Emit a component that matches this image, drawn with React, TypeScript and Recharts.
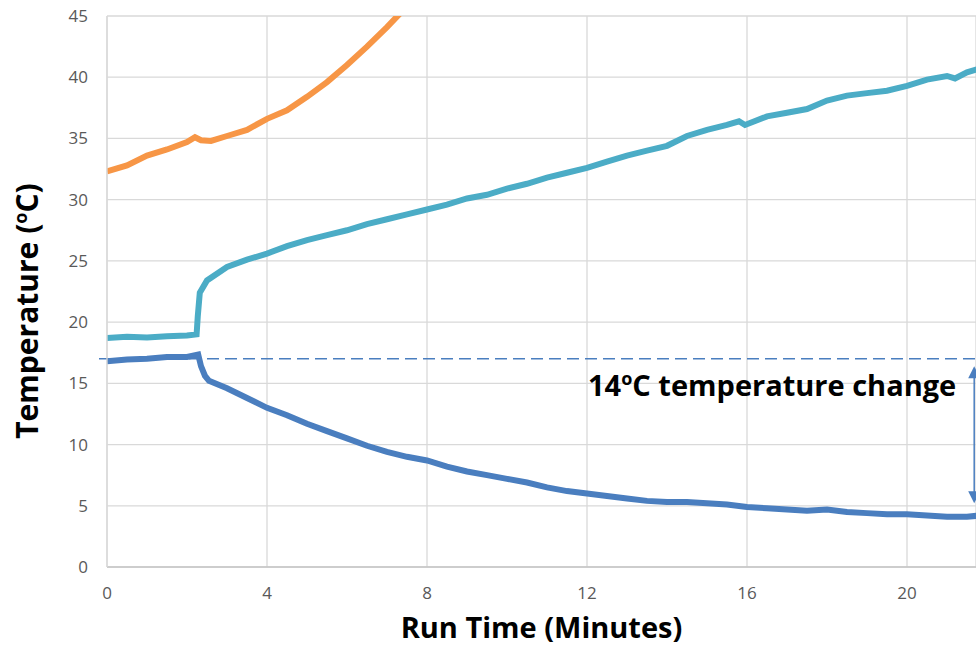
import React from "react";
import { LineChart, Line, XAxis, YAxis, CartesianGrid, ReferenceLine, Label } from "recharts";

const xTicks = [0, 4, 8, 12, 16, 20];
const yTicks = [0, 5, 10, 15, 20, 25, 30, 35, 40, 45];

const hotTime = [0, 0.5, 1, 1.5, 2, 2.2, 2.35, 2.6, 3, 3.5, 4, 4.5, 5, 5.5, 6, 6.5, 7, 7.5, 8];
const hotTemp = [32.3, 32.8, 33.6, 34.1, 34.7, 35.1, 34.85, 34.8, 35.2, 35.7, 36.6, 37.3, 38.4, 39.6, 41.0, 42.5, 44.1, 45.8, 47.5];

const warmTime = [0, 0.5, 1, 1.5, 2, 2.24, 2.27, 2.32, 2.5, 3, 3.5, 4, 4.5, 5, 5.5, 6, 6.5, 7, 7.5, 8, 8.5, 9, 9.5, 10, 10.5, 11, 11.5, 12, 12.5, 13, 13.5, 14, 14.5, 15, 15.5, 15.8, 15.95, 16.5, 17, 17.5, 18, 18.5, 19, 19.5, 20, 20.5, 21, 21.2, 21.5, 21.8];
const warmTemp = [18.7, 18.8, 18.75, 18.85, 18.9, 19.0, 20.5, 22.4, 23.4, 24.5, 25.1, 25.6, 26.2, 26.7, 27.1, 27.5, 28.0, 28.4, 28.8, 29.2, 29.6, 30.1, 30.4, 30.9, 31.3, 31.8, 32.2, 32.6, 33.1, 33.6, 34.0, 34.4, 35.2, 35.7, 36.1, 36.4, 36.1, 36.8, 37.1, 37.4, 38.1, 38.5, 38.7, 38.9, 39.3, 39.8, 40.1, 39.9, 40.4, 40.7];

const coldTime = [0, 0.5, 1, 1.5, 2, 2.28, 2.35, 2.45, 2.55, 3, 3.5, 4, 4.5, 5, 5.5, 6, 6.5, 7, 7.5, 8, 8.5, 9, 9.5, 10, 10.5, 11, 11.5, 12, 12.5, 13, 13.5, 14, 14.5, 15, 15.5, 16, 16.5, 17, 17.5, 18, 18.5, 19, 19.5, 20, 20.5, 21, 21.5, 21.8];
const coldTemp = [16.8, 16.95, 17.0, 17.15, 17.15, 17.35, 16.4, 15.6, 15.2, 14.6, 13.8, 13.0, 12.4, 11.7, 11.1, 10.5, 9.9, 9.4, 9.0, 8.7, 8.2, 7.8, 7.5, 7.2, 6.9, 6.5, 6.2, 6.0, 5.8, 5.6, 5.4, 5.3, 5.3, 5.2, 5.1, 4.9, 4.8, 4.7, 4.6, 4.7, 4.5, 4.4, 4.3, 4.3, 4.2, 4.1, 4.1, 4.2];

const baselineTemp = 17;
const arrowTime = 21.68;
const arrowTop = 16.4;
const arrowBottom = 5.2;

const zip = (ts: number[], vs: number[]) => ts.map((t, i) => ({ t, v: vs[i] }));
const hotData = zip(hotTime, hotTemp);
const warmData = zip(warmTime, warmTemp);
const coldData = zip(coldTime, coldTemp);

const FONT = "'Open Sans', sans-serif";
const BLUE = "#4A7EBF";

const YTitle = () => (
  <text
    x={38}
    y={311}
    transform="rotate(-90, 38, 311)"
    textAnchor="middle"
    fontFamily={FONT}
    fontWeight={700}
    fontSize={30}
    fill="#000"
  >
    <tspan>Temperature (</tspan>
    <tspan fontSize={18} dy={-11}>o</tspan>
    <tspan dy={11}>C)</tspan>
  </text>
);

const Annotation = (props: any) => {
  const vb = props.viewBox || { x: 99, y: 359 };
  return (
    <text
      x={vb.x + 489}
      y={vb.y + 37}
      fontFamily={FONT}
      fontWeight={700}
      fontSize={29}
      fill="#000"
    >
      <tspan>14</tspan>
      <tspan fontSize={18} dy={-11}>o</tspan>
      <tspan dy={11}>C temperature change</tspan>
    </text>
  );
};

const Arrow = (props: any) => {
  const { x1, y1, x2, y2 } = props;
  const top = Math.min(y1, y2);
  const bot = Math.max(y1, y2);
  return (
    <g>
      <line x1={x1} y1={top + 8} x2={x2} y2={bot - 8} stroke={BLUE} strokeWidth={1.5} />
      <polygon points={`${x1},${top} ${x1 - 6},${top + 12} ${x1 + 6},${top + 12}`} fill={BLUE} />
      <polygon points={`${x1},${bot} ${x1 - 6},${bot - 12} ${x1 + 6},${bot - 12}`} fill={BLUE} />
    </g>
  );
};

export default function App() {
  return (
    <div style={{ position: "absolute", left: 0, top: 0, background: "#fff" }}>
      <LineChart width={976} height={647} margin={{ top: 16, right: 0, bottom: 0, left: 0 }}>
        <CartesianGrid stroke="#d9d9d9" strokeWidth={1.3} />
        <XAxis
          type="number"
          dataKey="t"
          domain={[0, 21.725]}
          ticks={xTicks}
          allowDataOverflow
          height={80}
          tickLine={false}
          tickMargin={14}
          axisLine={{ stroke: "#c6c6c6", strokeWidth: 1.5 }}
          tick={{ fill: "#595959", fontSize: 17, fontFamily: FONT }}
        >
          <Label
            value="Run Time (Minutes)"
            position="insideBottom"
            offset={9}
            style={{ fontFamily: FONT, fontWeight: 700, fontSize: 29, fill: "#000" }}
          />
        </XAxis>
        <YAxis
          type="number"
          domain={[0, 45]}
          ticks={yTicks}
          allowDataOverflow
          width={107}
          tickLine={false}
          tickMargin={13}
          axisLine={{ stroke: "#d9d9d9", strokeWidth: 1.3 }}
          tick={{ fill: "#595959", fontSize: 17, fontFamily: FONT }}
          label={<YTitle />}
        />
        <Line data={hotData} dataKey="v" type="linear" stroke="#F79646" strokeWidth={6} dot={false} isAnimationActive={false} />
        <Line data={warmData} dataKey="v" type="linear" stroke="#4BACC6" strokeWidth={6} dot={false} isAnimationActive={false} />
        <Line data={coldData} dataKey="v" type="linear" stroke={BLUE} strokeWidth={6} dot={false} isAnimationActive={false} />
        <ReferenceLine
          segment={[{ x: -0.2, y: baselineTemp }, { x: 21.725, y: baselineTemp }]}
          stroke={BLUE}
          strokeWidth={1.5}
          strokeDasharray="12 6"
          ifOverflow="visible"
          label={<Annotation />}
        />
        <ReferenceLine
          segment={[{ x: arrowTime, y: arrowTop }, { x: arrowTime, y: arrowBottom }]}
          ifOverflow="visible"
          shape={<Arrow />}
        />
      </LineChart>
    </div>
  );
}
